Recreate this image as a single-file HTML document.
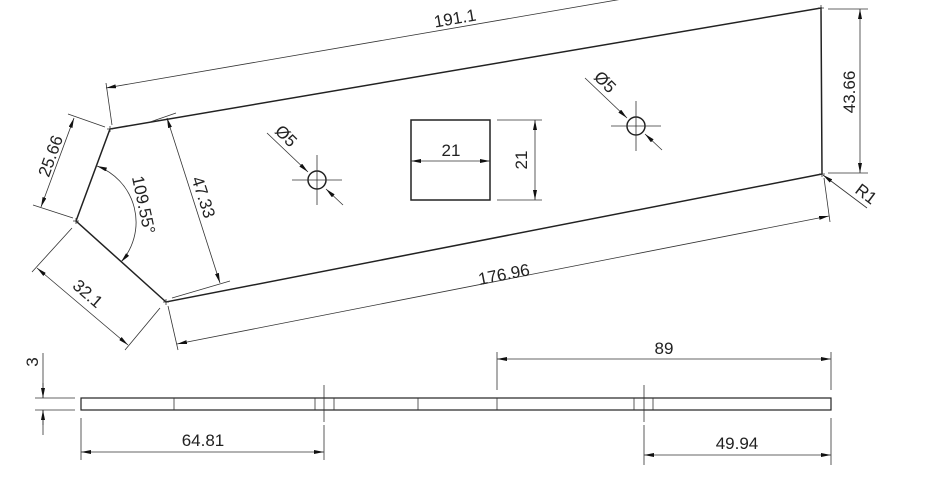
<!DOCTYPE html>
<html><head><meta charset="utf-8"><style>
html,body{margin:0;padding:0;background:#fff;}
svg{display:block;}
text{font-family:"Liberation Sans",Arial,sans-serif;font-size:17px;fill:#222;}
</style></head><body>
<svg width="931" height="500" viewBox="0 0 931 500" xmlns="http://www.w3.org/2000/svg">
<defs>
<marker id="a" viewBox="0 0 10 4" refX="10" refY="2" markerWidth="10" markerHeight="4" orient="auto-start-reverse" markerUnits="userSpaceOnUse"><path d="M0,0 L10,2 L0,4 Z" fill="#111"/></marker>
</defs>
<g fill="none" stroke="#222" stroke-width="1.5">
<path d="M110,129 L76,221 L166,302 L822,174 L821,8 Z"/>
<rect x="411" y="120" width="79" height="80"/>
<circle cx="317" cy="180" r="9"/>
<circle cx="636" cy="126" r="9"/>
<rect x="81" y="398" width="750" height="12" stroke-width="1.2"/>
</g>
<g stroke="#333" stroke-width="0.8" fill="none">
<path d="M110,126v6M107,129h6M76,218v6M73,221h6M166,299v6M163,302h6M819,174h6M822,171v6M818,8h6M821,5v6"/>
<path d="M292,180h50M317,155v50M611,126h50M636,101v50"/>
<path d="M174,398v12M315,398v12M334,398v12M418,398v12M497,398v12M634,398v12M653,398v12M324,385v37M644,385v37"/>
<path d="M112,125 L106,83"/>
<path d="M106,88 L640,-4" marker-start="url(#a)"/>
<path d="M168,306 L178,350M824,178 L830,222"/>
<path d="M177,344 L829,216" marker-start="url(#a)" marker-end="url(#a)"/>
<path d="M828,9h40M828,173h40"/>
<path d="M860,9 V173" marker-start="url(#a)" marker-end="url(#a)"/>
<path d="M867,208 L823,175" marker-end="url(#a)"/>
<path d="M105,127 L68,114M73,218 L33,205"/>
<path d="M74,118 L41,207" marker-start="url(#a)" marker-end="url(#a)"/>
<path d="M72,228 L32,272M160,308 L125,350"/>
<path d="M37,268 L128,345" marker-start="url(#a)" marker-end="url(#a)"/>
<path d="M97,166 A60,60 0 0 1 121,262" marker-start="url(#a)" marker-end="url(#a)"/>
<path d="M150,122 L176,113M172,298 L230,281"/>
<path d="M167,118 L220,283" marker-start="url(#a)" marker-end="url(#a)"/>
<path d="M267,133 L308,172" marker-end="url(#a)"/>
<path d="M343,205 L326,189" marker-end="url(#a)"/>
<path d="M585,78 L627,118" marker-end="url(#a)"/>
<path d="M662,150 L645,134" marker-end="url(#a)"/>
<path d="M411,161 H490" marker-start="url(#a)" marker-end="url(#a)"/>
<path d="M497,120h45M497,200h45"/>
<path d="M535,120 V200" marker-start="url(#a)" marker-end="url(#a)"/>
<path d="M35,398h40M35,410h40M43,353v45M43,410v25"/>
<path d="M43,383 V398" marker-end="url(#a)"/>
<path d="M43,425 V410" marker-end="url(#a)"/>
<path d="M81,418v42M324,425v35"/>
<path d="M81,452 H324" marker-start="url(#a)" marker-end="url(#a)"/>
<path d="M497,352v38M831,352v38"/>
<path d="M497,359 H831" marker-start="url(#a)" marker-end="url(#a)"/>
<path d="M644,425v40M831,418v47"/>
<path d="M644,455 H831" marker-start="url(#a)" marker-end="url(#a)"/>
</g>
<text transform="translate(456,24) rotate(-9.8)" text-anchor="middle">191.1</text>
<text transform="translate(505,280) rotate(-11)" text-anchor="middle">176.96</text>
<text transform="translate(855,92) rotate(-90)" text-anchor="middle">43.66</text>
<text transform="translate(854,192) rotate(37)">R1</text>
<text transform="translate(56,158) rotate(-70)" text-anchor="middle">25.66</text>
<text transform="translate(84,298) rotate(41)" text-anchor="middle">32.1</text>
<text transform="translate(138,206) rotate(78)" text-anchor="middle">109.55°</text>
<text transform="translate(198,199) rotate(72)" text-anchor="middle">47.33</text>
<text transform="translate(282,140) rotate(45)" text-anchor="middle">Ø5</text>
<text transform="translate(601,86) rotate(45)" text-anchor="middle">Ø5</text>
<text x="451" y="156" text-anchor="middle">21</text>
<text transform="translate(527,160) rotate(-90)" text-anchor="middle">21</text>
<text transform="translate(38,362) rotate(-90)" text-anchor="middle">3</text>
<text x="203" y="446" text-anchor="middle">64.81</text>
<text x="664" y="354" text-anchor="middle">89</text>
<text x="737" y="449" text-anchor="middle">49.94</text>
</svg>
</body></html>
